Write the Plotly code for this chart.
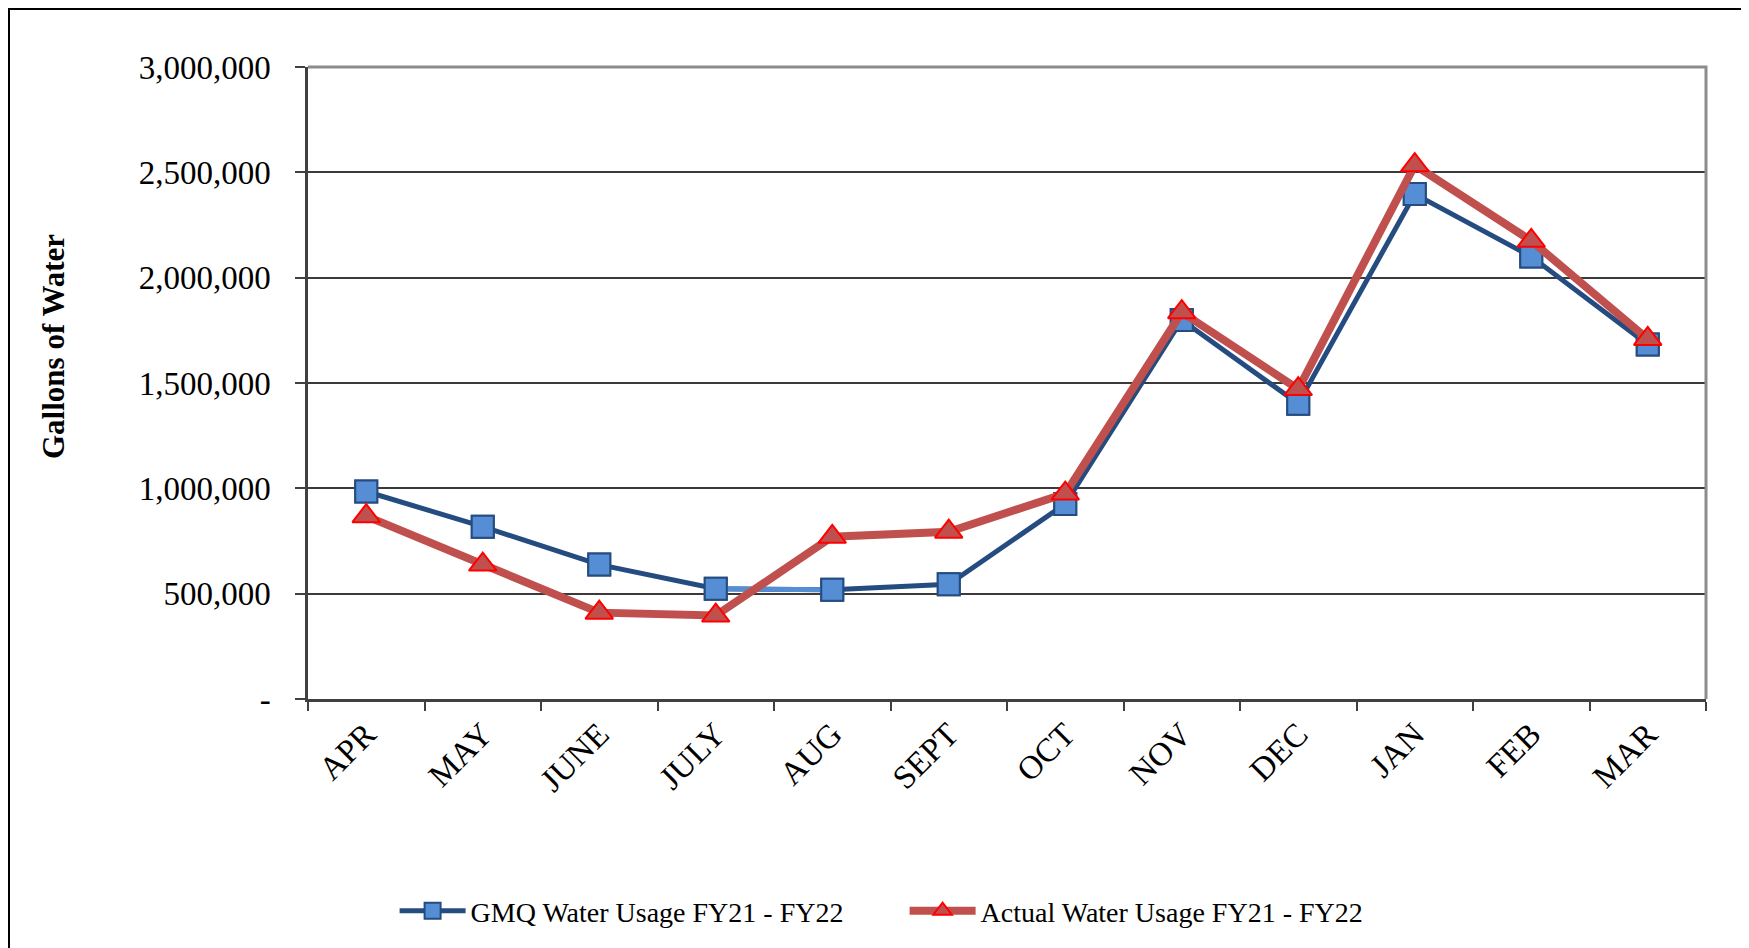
import plotly.graph_objects as go

months = ["APR", "MAY", "JUNE", "JULY", "AUG", "SEPT", "OCT", "NOV", "DEC", "JAN", "FEB", "MAR"]
gmq_usage = [985000, 818000, 638000, 523000, 519000, 545000, 926000, 1799000, 1402000, 2397000, 2100000, 1683000]
actual_usage = [868000, 638000, 410000, 396000, 770000, 794000, 975000, 1836000, 1471000, 2534000, 2175000, 1709000]
y_ticks = [0, 500000, 1000000, 1500000, 2000000, 2500000, 3000000]
y_tick_text = ["-" if v == 0 else f"{v:,}" for v in y_ticks]

name_gmq = "GMQ Water Usage FY21 - FY22"
name_actual = "Actual Water Usage FY21 - FY22"

FONT = "Liberation Serif, Times New Roman, serif"
DARK_BLUE = "#254C80"
LIGHT_BLUE = "#558ED5"
RED_LINE = "#C0504D"

fig = go.Figure()

fig.add_trace(go.Scatter(
    x=months, y=gmq_usage, name=name_gmq, mode="lines+markers",
    line=dict(color=DARK_BLUE, width=5),
    marker=dict(symbol="square", size=22, color=LIGHT_BLUE, line=dict(color=DARK_BLUE, width=2)),
))
fig.add_trace(go.Scatter(
    x=months[3:5], y=gmq_usage[3:5], mode="lines", showlegend=False, hoverinfo="skip",
    line=dict(color=LIGHT_BLUE, width=5),
))
fig.add_trace(go.Scatter(
    x=months, y=gmq_usage, mode="markers", showlegend=False, name=name_gmq,
    marker=dict(symbol="square", size=22, color=LIGHT_BLUE, line=dict(color=DARK_BLUE, width=2)),
))
fig.add_trace(go.Scatter(
    x=months, y=actual_usage, name=name_actual, mode="lines+markers",
    line=dict(color=RED_LINE, width=8),
    marker=dict(symbol="triangle-up", size=24, color=RED_LINE, line=dict(color="#FF0000", width=2)),
))

W, H = 1749, 948
OFF = 8  # page offset of the figure (default body margin)
PX0, PX1, PY0, PY1 = 308, 1706, 67, 699
L = PX0 - OFF
T = PY0 - OFF
pw, ph = PX1 - PX0, PY1 - PY0
R = W - L - pw
B = H - T - ph

def px_x(x):
    return (x - PX0) / pw

def px_y(y):
    return (PY1 - y) / ph

fig.update_layout(
    width=W, height=H,
    margin=dict(l=L, r=R, t=T, b=B, autoexpand=False),
    paper_bgcolor="#bcbcbc",
    plot_bgcolor="#F2F2F2",
    font=dict(family=FONT, size=33, color="#000000"),
    showlegend=True,
    legend=dict(
        orientation="h", xref="container", yref="container",
        x=(386.6) / W, y=1 - (911 - OFF) / H, xanchor="left", yanchor="middle",
        font=dict(family=FONT, size=28, color="#000000"),
        bgcolor="rgba(0,0,0,0)", itemwidth=66, traceorder="normal",
        entrywidth=429,
    ),
    xaxis=dict(
        type="category", tickson="boundaries", ticks="outside", ticklen=9, tickwidth=2,
        tickcolor="#404040", showline=True, linecolor="#404040", linewidth=2.5,
        showgrid=False, tickangle=-45, tickfont=dict(family=FONT, size=33),
        range=[-0.5, 11.5],
    ),
    yaxis=dict(
        range=[0, 3000000], tickvals=y_ticks, ticktext=y_tick_text,
        ticks="outside", ticklen=10, tickwidth=2, tickcolor="#404040",
        showline=True, linecolor="#404040", linewidth=2.5,
        showgrid=True, gridcolor="#3a3a3a", gridwidth=1.5,
        zeroline=False, tickfont=dict(family=FONT, size=33),
        ticklabelstandoff=18,
    ),
    annotations=[dict(
        text="<b>Gallons of Water</b>", textangle=-90, showarrow=False,
        xref="paper", yref="paper", x=px_x(53), y=px_y(347),
        xanchor="center", yanchor="middle",
        font=dict(family=FONT, size=31, color="#000000"),
    )],
    shapes=[
        dict(type="rect", xref="paper", yref="paper", layer="below",
             x0=px_x(OFF + 1), x1=px_x(1744), y0=px_y(1100), y1=px_y(OFF + 1),
             fillcolor="#FFFFFF", line=dict(color="#000000", width=2)),
        dict(type="path", xref="paper", yref="paper", layer="above",
             path="M 0,1 L 1,1 L 1,0", line=dict(color="#8c8c8c", width=3)),
    ],
)

fig.write_html("out.html")
